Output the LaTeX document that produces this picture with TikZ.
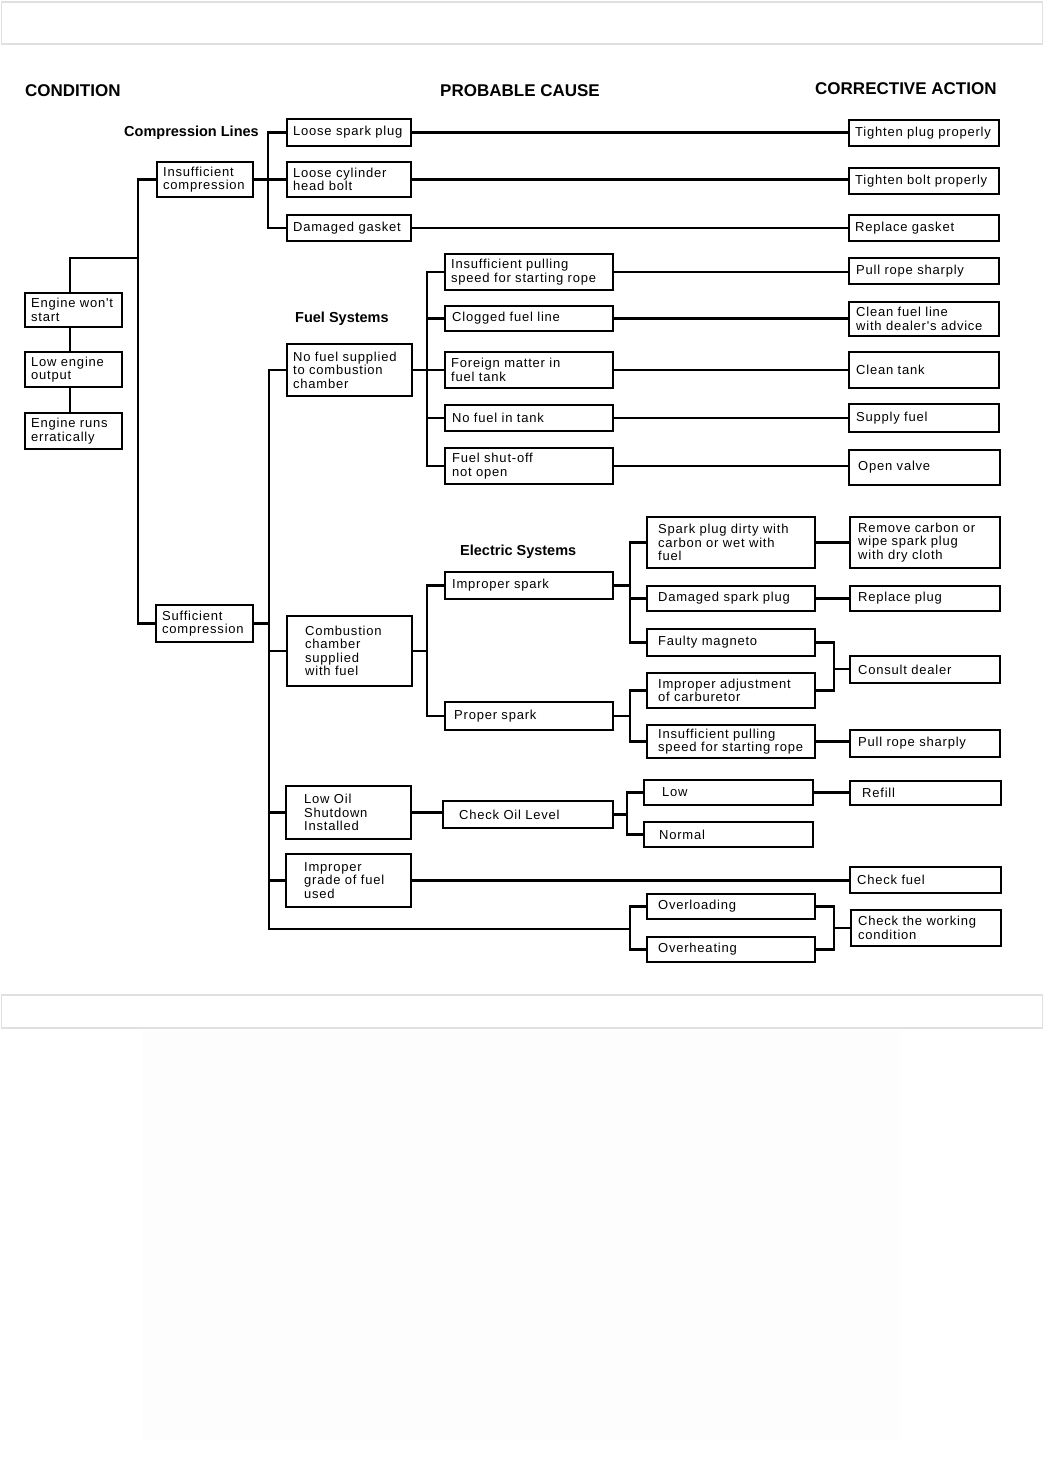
\documentclass[tikz,border=0pt]{standalone}
\usepackage{fontspec}
\newfontfamily\bodyf{Liberation Sans}[LetterSpace=6]
\newfontfamily\headf{Liberation Sans}
\newcommand\Bx[8][]{%
 \pgfmathsetmacro\bw{#5-#3}\pgfmathsetmacro\bh{#6-#4}%
 \pgfmathsetmacro\bcx{(#3+#5)/2}\pgfmathsetmacro\bcy{(#4+#6)/2}%
 \pgfmathsetmacro\btx{#3+#7}%
 \node[box,minimum width=\bw pt,minimum height=\bh pt,#1] (#2) at (\bcx,\bcy) {};
 \node[lbl] (#2-t) at (\btx,\bcy) {#8};
}
\begin{document}
\begin{tikzpicture}[x=1pt,y=-1pt,
 box/.style={draw, line width=2pt, inner sep=0pt, rectangle},
 thkbox/.style={line width=2.7pt},
 lbl/.style={anchor=west, align=left, inner sep=0pt, font=\bodyf\fontsize{13}{13.5}\selectfont},
 hd/.style={anchor=west, inner sep=0pt, font=\headf\bfseries\fontsize{17}{17}\selectfont},
 sec/.style={anchor=west, inner sep=0pt, font=\headf\bfseries\fontsize{14.5}{14.5}\selectfont},
 conn/.style={line width=2.1pt},
 thk/.style={line width=2.8pt},
 thn/.style={line width=1.3pt}]
\useasboundingbox (0,0) rectangle (1044,1468);
\fill[white] (0,0) rectangle (1044,1468);
\fill[black!0.8] (143,1030) rectangle (900,1440);
\draw[black!12,line width=1.5pt,fill=white] (1.5,2) rectangle (1042.5,44);
\draw[black!12,line width=1.5pt,fill=white] (1.5,995) rectangle (1042.5,1028);

% headings
\node[hd] (hcond) at (25,91) {CONDITION};
\node[hd] (hcause) at (440,91) {PROBABLE CAUSE};
\node[hd] (hact) at (815,89) {CORRECTIVE ACTION};
\node[sec] (scomp) at (124,133) {Compression Lines};
\node[sec] (sfuel) at (295,319) {Fuel Systems};
\node[sec] (selec) at (460,552) {Electric Systems};

% condition column
\Bx{ews}{25}{293}{122}{327}{6}{Engine won't\\start}
\Bx{leo}{25}{352}{122}{387}{6}{Low engine\\output}
\Bx{ere}{25}{413}{122}{449}{6}{Engine runs\\erratically}
\Bx{ic}{157}{162}{253}{197}{6}{Insufficient\\compression}
\Bx{sc}{156}{605}{253}{642}{6}{Sufficient\\compression}

% compression
\Bx{lsp}{287}{119}{411}{146}{6}{Loose spark plug}
\Bx{lch}{287}{162}{411}{197}{6}{Loose cylinder\\head bolt}
\Bx{dg}{287}{215}{411}{241}{6}{Damaged gasket}
\Bx{tpp}{849}{120}{999}{146}{6}{Tighten plug properly}
\Bx{tbp}{849}{168}{999}{194}{6}{Tighten bolt properly}
\Bx{rg}{849}{215}{999}{241}{6}{Replace gasket}

% fuel
\Bx{nfs}{287}{344}{412}{396}{6}{No fuel supplied\\to combustion\\chamber}
\Bx{ips}{445}{254}{613}{290}{6}{Insufficient pulling\\speed for starting rope}
\Bx{cfl}{445}{306}{613}{331}{7}{Clogged fuel line}
\Bx[thkbox]{fm}{445}{352}{613}{388}{6}{Foreign matter in\\fuel tank}
\Bx{nft}{445}{405}{613}{431}{7}{No fuel in tank}
\Bx[thkbox]{fso}{445}{448}{613}{484}{7}{Fuel shut-off\\not open}
\Bx{prs1}{849}{258}{999}{284}{7}{Pull rope sharply}
\Bx{cfla}{849}{302}{999}{336}{7}{Clean fuel line\\with dealer's advice}
\Bx[thkbox]{ct}{849}{352}{999}{388}{7}{Clean tank}
\Bx{sf}{849}{404}{999}{432}{7}{Supply fuel}
\Bx{ov}{849}{450}{1000}{485}{9}{Open valve}

% combustion / electric
\Bx{ccs}{287}{616}{412}{686}{18}{Combustion\\chamber\\supplied\\with fuel}
\Bx{isp}{445}{572}{613}{599}{7}{Improper spark}
\Bx[thkbox]{psk}{445}{702}{613}{730}{9}{Proper spark}
\Bx{spd}{647}{517}{815}{568}{11}{Spark plug dirty with\\carbon or wet with\\fuel}
\Bx{dsp}{647}{586}{815}{611}{11}{Damaged spark plug}
\Bx[thkbox]{fmg}{647}{629}{815}{656}{11}{Faulty magneto}
\Bx{iac}{647}{673}{815}{708}{11}{Improper adjustment\\of carburetor}
\Bx[thkbox]{ips2}{647}{725}{815}{758}{11}{Insufficient pulling\\speed for starting rope}
\Bx[thkbox]{rc}{850}{517}{1000}{568}{8}{Remove carbon or\\wipe spark plug\\with dry cloth}
\Bx{rp}{850}{586}{1000}{611}{8}{Replace plug}
\Bx[thkbox]{cd}{850}{656}{1000}{683}{8}{Consult dealer}
\Bx{prs2}{850}{730}{1000}{757}{8}{Pull rope sharply}

% oil / fuel grade / load
\Bx{los}{286}{786}{411}{839}{18}{Low Oil\\Shutdown\\Installed}
\Bx{col}{443}{801}{613}{828}{16}{Check Oil Level}
\Bx{low}{644}{780}{813}{805}{18}{Low}
\Bx{nor}{644}{822}{813}{847}{15}{Normal}
\Bx{refill}{850}{781}{1001}{805}{12}{Refill}
\Bx{ig}{286}{854}{411}{907}{18}{Improper\\grade of fuel\\used}
\Bx{cf}{850}{867}{1001}{893}{7}{Check fuel}
\Bx{ovl}{647}{894}{815}{919}{11}{Overloading}
\Bx[thkbox]{ovh}{647}{937}{815}{962}{11}{Overheating}
\Bx{cwc}{851}{910}{1001}{946}{7}{Check the working\\condition}

% connectors: condition column
\coordinate (j0) at (70,258);
\coordinate (t1) at (138,258);
\draw[conn] (ews.north -| j0) -- (j0) -- (t1);
\draw[conn] (ews.south -| j0) -- (leo.north -| j0);
\draw[conn] (leo.south -| j0) -- (ere.north -| j0);
\draw[conn] (ic.west) -| (t1) |- (sc.west);

% compression
\coordinate (c1) at (268,180);
\draw[conn] (ic.east) -- (lch.west);
\draw[conn] (lsp.west) -| (c1) |- (dg.west);
\draw[conn] (lsp.east) -- (lsp.east -| tpp.west);
\draw[conn] (lch.east) -- (lch.east -| tbp.west);
\draw[conn] (dg.east) -- (dg.east -| rg.west);

% trunk
\coordinate (tr) at (269,624);
\coordinate (ob) at (630,929);
\draw[conn] (sc.east) -- (sc.east -| tr);
\draw[conn] (nfs.west) -| (tr) |- (ob);
\draw[conn] (ccs.west) -- (ccs.west -| tr);
\draw[conn] (los.west) -- (los.west -| tr);
\draw[conn] (ig.west) -- (ig.west -| tr);
\draw[conn] (ovl.west) -| (ob) |- (ovh.west);

% fuel
\coordinate (f1) at (427,370);
\draw[conn] (ips.west) -| (f1) |- (fso.west);
\draw[thn] (nfs.east) -- (nfs.east -| fm.west);
\draw[conn] (cfl.west) -- (cfl.west -| f1);
\draw[thn] (nft.west) -- (nft.west -| f1);
\draw[conn] (ips.east) -- (ips.east -| prs1.west);
\draw[thk] (cfl.east) -- (cfl.east -| cfla.west);
\draw[thn] (fm.east) -- (fm.east -| ct.west);
\draw[thn] (nft.east) -- (nft.east -| sf.west);
\draw[conn] (fso.east) -- (fso.east -| ov.west);

% electric
\coordinate (e1) at (427,650);
\draw[conn] (ccs.east) -- (ccs.east -| e1);
\draw[conn] (isp.west) -| (e1) |- (psk.west);
\coordinate (e2) at (630,600);
\draw[conn] (isp.east) -- (isp.east -| e2);
\draw[conn] (spd.west) -| (e2) |- (fmg.west);
\draw[conn] (dsp.west) -- (dsp.west -| e2);
\coordinate (e3) at (630,716);
\draw[conn] (psk.east) -- (e3);
\draw[conn] (iac.west) -| (e3) |- (ips2.west);
\draw[conn] (spd.east) -- (spd.east -| rc.west);
\draw[conn] (dsp.east) -- (dsp.east -| rp.west);
\coordinate (e4) at (834,669);
\draw[conn] (fmg.east) -| (e4) |- (iac.east);
\draw[conn] (e4) -- (e4 -| cd.west);
\draw[conn] (ips2.east) -- (ips2.east -| prs2.west);

% oil, grade, load
\draw[conn] (los.east) -- (los.east -| col.west);
\coordinate (o1) at (627,814.5);
\draw[conn] (col.east) -- (o1);
\draw[conn] (low.west) -| (o1) |- (nor.west);
\draw[conn] (low.east) -- (low.east -| refill.west);
\draw[conn] (ig.east) -- (ig.east -| cf.west);
\coordinate (o2) at (834,928);
\draw[conn] (ovl.east) -| (o2) |- (ovh.east);
\draw[conn] (o2) -- (o2 -| cwc.west);
\end{tikzpicture}
\end{document}
